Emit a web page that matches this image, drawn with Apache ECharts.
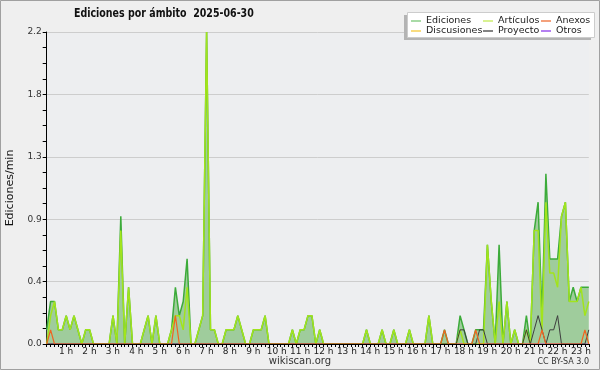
<!DOCTYPE html>
<html><head><meta charset="utf-8">
<script src="https://cdn.jsdelivr.net/npm/echarts@6/dist/echarts.min.js"></script>
<style>html,body{margin:0;padding:0;background:#efefef}#c{width:600px;height:370px}</style>
</head><body><div id="c"></div>
<script>
// 10-minute bins, 00:00 .. 23:10
var hourLabels = ['1 h','2 h','3 h','4 h','5 h','6 h','7 h','8 h','9 h','10 h','11 h','12 h','13 h','14 h','15 h','16 h','17 h','18 h','19 h','20 h','21 h','22 h','23 h'];
var categories = [];
for (var h = 0; h < 24; h++) for (var m = 0; m < 60; m += 10) { if (categories.length < 140) categories.push((h<10?'0':'')+h+':'+(m<10?'0':'')+m); }

var ediciones = [
0.1,0.3,0.3,0.1,0.1,0.2,0.1,0.2,0.1,0, 0.1,0.1,0,0,0,0,0,0.2,0,0.9,
0,0.4,0,0,0,0.1,0.2,0,0.2,0, 0,0,0.1,0.4,0.2,0.3,0.6,0,0,0.1,
0.2,2.2,0.1,0.1,0,0,0.1,0.1,0.1,0.2, 0.1,0,0,0.1,0.1,0.1,0.2,0,0,0,
0,0,0,0.1,0,0.1,0.1,0.2,0.2,0, 0.1,0,0,0,0,0,0,0,0,0,
0,0,0.1,0,0,0,0.1,0,0,0.1, 0,0,0,0.1,0,0,0,0,0.2,0,
0,0,0.1,0,0,0,0.2,0.1,0,0, 0.1,0.1,0.1,0.7,0.3,0,0.7,0,0.3,0,
0.1,0,0,0.2,0,0.8,1.0,0.2,1.2,0.6, 0.6,0.6,0.9,1.0,0.3,0.4,0.3,0.4,0.4,0.4
];
var articulos = [
0,0.2,0.3,0.1,0.1,0.2,0.1,0.2,0.1,0, 0.1,0.1,0,0,0,0,0,0.2,0,0.8,
0,0.4,0,0,0,0.1,0.2,0,0.2,0, 0,0,0.1,0.2,0.2,0.1,0.4,0,0,0.1,
0.2,2.2,0.1,0.1,0,0,0.1,0.1,0.1,0.2, 0.1,0,0,0.1,0.1,0.1,0.2,0,0,0,
0,0,0,0.1,0,0.1,0.1,0.2,0.2,0, 0.1,0,0,0,0,0,0,0,0,0,
0,0,0.1,0,0,0,0.1,0,0,0.1, 0,0,0,0.1,0,0,0,0,0.2,0,
0,0,0,0,0,0,0.1,0,0,0, 0,0,0,0.7,0.3,0,0.3,0,0.3,0,
0.1,0,0,0.1,0,0.8,0.8,0.1,1.0,0.5, 0.5,0.4,0.9,1.0,0.3,0.3,0.3,0.4,0.2,0.3
];
var anexos = [
0,0.1,0,0,0,0,0,0,0,0, 0,0,0,0,0,0,0,0,0,0,
0,0,0,0,0,0,0,0,0,0, 0,0,0,0.2,0,0,0,0,0,0,
0,0,0,0,0,0,0,0,0,0, 0,0,0,0,0,0,0,0,0,0,
0,0,0,0,0,0,0,0,0,0, 0,0,0,0,0,0,0,0,0,0,
0,0,0,0,0,0,0,0,0,0, 0,0,0,0,0,0,0,0,0,0,
0,0,0.1,0,0,0,0,0,0,0, 0.1,0,0,0,0,0,0,0,0,0,
0,0,0,0,0,0,0,0.1,0,0, 0,0,0,0,0,0,0,0,0.1,0
];
var proyecto = [
0,0,0,0,0,0,0,0,0,0, 0,0,0,0,0,0,0,0,0,0,
0,0,0,0,0,0,0,0,0,0, 0,0,0,0,0,0,0,0,0,0,
0,0,0,0,0,0,0,0,0,0, 0,0,0,0,0,0,0,0,0,0,
0,0,0,0,0,0,0,0,0,0, 0,0,0,0,0,0,0,0,0,0,
0,0,0,0,0,0,0,0,0,0, 0,0,0,0,0,0,0,0,0,0,
0,0,0,0,0,0,0.1,0.1,0,0, 0,0.1,0.1,0,0,0,0,0,0,0,
0,0,0,0.1,0,0.1,0.2,0.1,0,0.1, 0.1,0.2,0,0,0,0,0,0,0,0.1
];
var discusiones = [];
var otros = [];
for (var k = 0; k < 140; k++) { discusiones.push(0); otros.push(0); }

var FONT = 'DejaVu Sans';
var chart = echarts.init(document.getElementById('c'), null, {renderer:'canvas'});
function lg(left, names, cols) {
  return {
    left: left, top: 11, orient: 'vertical', itemGap: 0, itemWidth: 10, itemHeight: 1.5,
    icon: 'rect',
    textStyle: {fontFamily: FONT, fontSize: 9.5, color: '#222', padding: [0,0,0,0]},
    data: names.map(function(n, i){ return {name: n, itemStyle: {color: cols[i]}}; }),
    selectedMode: false
  };
}
chart.setOption({
  backgroundColor: '#efefef',
  animation: false,
  textStyle: {fontFamily: FONT},
  graphic: [
    {type:'rect', shape:{x:0.5,y:0.5,width:599,height:369}, style:{fill:'none', stroke:'#a0a0a0', lineWidth:1}, z:100},
    {type:'text', x:74, y:14, scaleX:0.81, scaleY:1, z:3,
     style:{text:'Ediciones por ámbito  2025-06-30', fontFamily: 'DejaVu Sans Condensed', fontWeight:'bold', fontSize:13, fill:'#111', verticalAlign:'middle'}},
    {type:'rect', shape:{x:404,y:15,width:187,height:25}, style:{fill:'#b4b4b4'}, z:1},
    {type:'rect', shape:{x:407.5,y:12.5,width:187,height:25}, style:{fill:'#ffffff', stroke:'#cccccc', lineWidth:1}, z:2},
    {type:'text', left:'center', top:356, style:{text:'wikiscan.org', fontFamily: FONT, fontSize:10, fill:'#333'}, z:3},
    {type:'text', right:11, top:358, style:{text:'CC BY-SA 3.0', fontFamily: FONT, fontSize:8, fill:'#333'}, z:3}
  ],
  legend: [
    lg(406, ['Ediciones','Discusiones'], ['#8ccf8a','#f7d154']),
    lg(478, ['Artículos','Proyecto'], ['#cdee6e','#5a5a5a']),
    lg(536, ['Anexos','Otros'], ['#f08250','#9b55ec'])
  ],
  grid: {left: 46.7, right: 11.2, top: 32, bottom: 26, show: true, backgroundColor: '#edeef0', borderWidth: 0,
         containLabel: false, outerBoundsMode: 'none'},
  xAxis: {
    type: 'category', data: categories, boundaryGap: false, z: 10,
    axisLine: {lineStyle: {color: '#000', width: 1}},
    axisTick: {show: true, interval: 0, length: 3, lineStyle: {color: '#000'}},
    axisLabel: {
      interval: function(i){ return i % 6 === 0 && i > 0; },
      formatter: function(v, i){ return hourLabels[i/6 - 1]; },
      fontSize: 9, color: '#222', margin: 3, padding: [0,8,0,0]
    },
    splitLine: {show: false}
  },
  yAxis: {
    type: 'value', min: 0, max: 2.2, interval: 0.44,
    name: 'Ediciones/min', nameLocation: 'middle', nameGap: 31, nameRotate: 90,
    nameTextStyle: {fontFamily: FONT, fontSize: 11, color: '#111'},
    axisLine: {show: true, lineStyle: {color: '#000'}},
    axisTick: {show: true, length: 4, lineStyle: {color: '#000'}},
    minorTick: {show: true, splitNumber: 4, length: 4, lineStyle: {color: '#000'}},
    axisLabel: {fontSize: 9, color: '#333', margin: 5, formatter: function(v){ return v.toFixed(1); }},
    splitLine: {lineStyle: {color: '#cdcdcd', width: 1}}
  },
  series: [
    {name:'Ediciones', type:'line', data: ediciones, symbol:'none', z:2,
     lineStyle:{color:'#3cab3a', width:1.5}, itemStyle:{color:'#3cab3a'},
     areaStyle:{color:'#9fcc9c', opacity:1}},
    {name:'Discusiones', type:'line', data: discusiones, symbol:'none', z:3,
     lineStyle:{color:'#f5c842', width:1}, itemStyle:{color:'#f5c842'}},
    {name:'Artículos', type:'line', data: articulos, symbol:'none', z:4,
     lineStyle:{color:'#a2e41c', width:1.5}, itemStyle:{color:'#a2e41c'}},
    {name:'Proyecto', type:'line', data: proyecto, symbol:'none', z:5,
     lineStyle:{color:'#3e3e3e', width:1}, itemStyle:{color:'#3e3e3e'}},
    {name:'Anexos', type:'line', data: anexos, symbol:'none', z:5,
     lineStyle:{color:'#f06420', width:1.2}, itemStyle:{color:'#f06420'}},
    {name:'Otros', type:'line', data: otros, symbol:'none', z:3,
     lineStyle:{color:'#9b4dea', width:1}, itemStyle:{color:'#9b4dea'}}
  ]
});
</script></body></html>
